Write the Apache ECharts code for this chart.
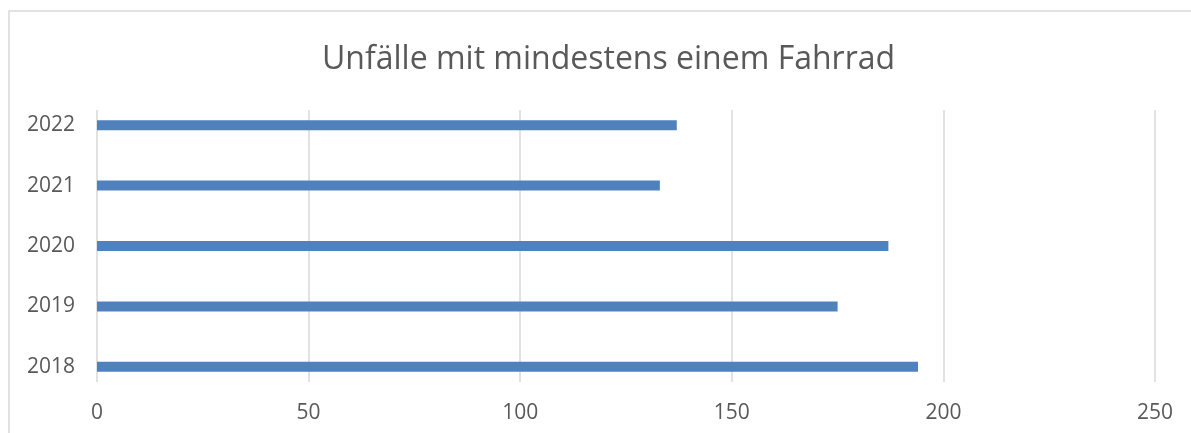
<!DOCTYPE html>
<html>
<head>
<meta charset="utf-8">
<script src="https://cdn.jsdelivr.net/npm/echarts@6/dist/echarts.min.js"></script>
<style>
html, body { margin: 0; padding: 0; background: #fff; }
#main { width: 1191px; height: 433px; }
</style>
</head>
<body>
<div id="main"></div>
<script>
var years = ['2018', '2019', '2020', '2021', '2022'];
var accidents = [194, 175, 187, 133, 137];
var xTicks = [0, 50, 100, 150, 200, 250];

var myChart = echarts.init(document.getElementById('main'));

var textColor = '#595959';
var font = 'Open Sans';

myChart.setOption({
    animation: false,
    title: {
        text: 'Unfälle mit mindestens einem Fahrrad',
        left: 317,
        top: 39,
        textStyle: { fontFamily: font, fontSize: 32, fontWeight: 'normal', color: textColor }
    },
    graphic: [{
        type: 'rect',
        shape: { x: 9, y: 11, width: 1300, height: 500 },
        style: { fill: null, stroke: '#d9d9d9', lineWidth: 1.5 },
        silent: true
    }],
    grid: [
        // bars
        { left: 97, right: 36, top: 95, bottom: 36 },
        // gridlines and x labels
        { left: 97, right: 36, top: 110, bottom: 51 }
    ],
    xAxis: [{
        gridIndex: 0,
        type: 'value',
        min: xTicks[0],
        max: xTicks[xTicks.length - 1],
        interval: 50,
        axisLine: { show: false },
        axisTick: { show: false },
        axisLabel: { show: false },
        splitLine: { show: false }
    }, {
        gridIndex: 1,
        type: 'value',
        min: xTicks[0],
        max: xTicks[xTicks.length - 1],
        interval: 50,
        axisLine: { show: false },
        axisTick: { show: false },
        axisLabel: { color: textColor, fontFamily: font, fontSize: 21, margin: 21 },
        splitLine: { lineStyle: { color: '#d9d9d9', width: 1.5 } }
    }],
    yAxis: [{
        gridIndex: 0,
        type: 'category',
        data: years,
        axisLine: { show: false },
        axisTick: { show: false },
        axisLabel: { color: textColor, fontFamily: font, fontSize: 21, margin: 22 }
    }, {
        gridIndex: 1,
        type: 'category',
        data: years,
        axisLine: { show: false },
        axisTick: { show: false },
        axisLabel: { show: false }
    }],
    series: [{
        type: 'bar',
        xAxisIndex: 0,
        yAxisIndex: 0,
        data: accidents,
        barWidth: 10,
        itemStyle: { color: '#4F81BD' }
    }]
});
</script>
</body>
</html>
